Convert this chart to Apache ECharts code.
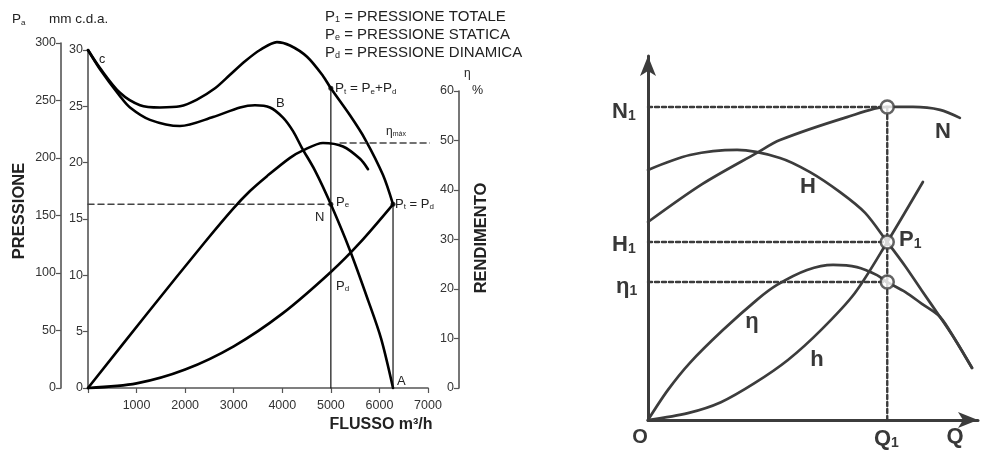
<!DOCTYPE html>
<html><head><meta charset="utf-8">
<script src="https://cdn.jsdelivr.net/npm/echarts@6/dist/echarts.min.js"></script>
<style>html,body{margin:0;padding:0;background:#fff}#c{width:988px;height:454px}</style>
</head><body><div id="c"></div>
<script>
// ---------- Left chart: fan curves ----------
const flussoTicks = [0,1000,2000,3000,4000,5000,6000,7000];      // m3/h
const pressionePaTicks = [0,50,100,150,200,250,300];              // Pa
const pressioneMmTicks = [0,5,10,15,20,25,30];                    // mm c.d.a.
const rendimentoTicks = [0,10,20,30,40,50,60];                    // %

// [flusso m3/h, pressione mm c.d.a.]
const pressioneTotale = [[0,30],[247,28.4],[659,26.2],[1071,25.1],[1482,24.9],[1894,25.0],[2244,25.6],[2615,26.6],[2924,27.8],[3233,29.0],[3541,30.0],[3891,30.7],[4159,30.4],[4509,29.4],[4838,27.7],[5000,26.6],[5394,24.2],[5703,22.1],[6074,18.9],[6280,16.3]];
const pressioneStatica = [[0,30],[247,28.3],[659,25.9],[865,24.9],[1277,23.8],[1894,23.25],[2574,24.05],[3130,24.9],[3438,25.1],[3747,24.9],[4015,24.0],[4221,22.8],[4406,21.3],[4674,19.3],[5000,16.3],[5394,12.2],[5765,7.8],[6033,4.4],[6280,0]];
const pressioneDinamica = [[0,0],[1000,0.41],[2000,1.64],[3000,3.7],[4000,6.6],[5000,10.3],[5600,12.9],[6280,16.3]];
// [flusso m3/h, rendimento %]
const rendimento = [[0,0],[1215,15.0],[2409,29.5],[2985,36.2],[3335,39.8],[3685,42.8],[4159,46.5],[4427,48.0],[4838,49.5],[5250,48.8],[5600,46.3],[5765,44.2]];
const puntoLavoro = [5000, 26.6, 16.3];   // flusso, Pt, Pe
const puntoMax = [6280, 16.3];            // flusso, Pt = Pd
const etaMax = [5190, 7640, 49.5];        // dashed from, to, value

// ---------- Right chart: pump curves (arbitrary units) ----------
const curvaN = [[0,54.4],[16.4,64.8],[33.0,73.4],[40.0,76.9],[60.3,83.2],[72.5,86.0],[80.3,86.0],[88.5,85.2],[94.5,83.0]];
const curvaH = [[0,68.7],[12.7,72.8],[27.0,74.2],[40.0,72.0],[49.1,68.1],[58.2,62.6],[65.8,56.9],[72.5,48.9],[77.9,42.3],[83.0,35.5],[88.5,28.3],[93.0,22.2],[98.2,14.3]];
const curvaEta = [[0,0],[6.0,8.2],[12.7,15.7],[22.7,24.7],[33.0,33.0],[39.1,37.1],[48.2,41.2],[56.1,42.6],[63.3,42.0],[69.4,39.8],[72.5,37.9],[77.9,35.2],[83.0,31.9],[88.5,28.3],[93.0,22.2],[98.2,14.3]];
const curvaImpianto = [[0,0],[12.1,1.9],[22.1,4.9],[32.4,10.2],[42.4,16.5],[52.4,24.7],[62.7,34.9],[72.5,48.9],[83.3,65.4]];
const puntoQ1 = 72.5;
const livelli = {N1: 86.0, H1: 48.9, eta1: 37.9};

const FONT = '"Liberation Sans", Arial, Helvetica, sans-serif';
const AX = '#555';
const GR = '#3c3c3c';

function tickOpts(ticks){ return {min: ticks[0], max: ticks[ticks.length-1], interval: ticks[1]-ticks[0]}; }

function line(data, xi, opts){
  opts = opts || {};
  return {
    type:'line', data:data, xAxisIndex:xi, yAxisIndex:xi, symbol:'none', clip:false,
    smooth: opts.smooth === undefined ? false : opts.smooth,
    lineStyle:{color: opts.color || '#000', width: opts.width || 2.6, type: opts.type || 'solid', cap:'round', join:'round'},
    z: opts.z || 3, silent:true, animation:false
  };
}

const series = [
  line(pressioneTotale, 0, {smooth:0.3}),
  line(pressioneStatica, 0, {smooth:0.3}),
  line(pressioneDinamica, 0, {smooth:0.3}),
  line([[0,puntoLavoro[2]],[puntoLavoro[0],puntoLavoro[2]]], 0, {color:'#444', width:1.5, type:[6,4]}),
  line([[puntoLavoro[0],0],[puntoLavoro[0],puntoLavoro[1]]], 0, {color:'#111', width:1.2}),
  line([[puntoMax[0],0],[puntoMax[0],puntoMax[1]]], 0, {color:'#111', width:1.2}),
  {type:'scatter', xAxisIndex:0, yAxisIndex:0, symbolSize:5, itemStyle:{color:'#000'}, silent:true, animation:false, z:5,
   data:[[puntoLavoro[0],puntoLavoro[1]],[puntoLavoro[0],puntoLavoro[2]],[puntoMax[0],puntoMax[1]]]},
  line(rendimento, 2, {smooth:0.3}),
  line([[etaMax[0],etaMax[2]],[etaMax[1],etaMax[2]]], 2, {color:'#444', width:1.5, type:[6,4]}),
  // right chart
  line(curvaN, 3, {smooth:0.3, color:GR, width:2.7}),
  line(curvaH, 3, {smooth:0.3, color:GR, width:2.7}),
  line(curvaEta, 3, {smooth:0.3, color:GR, width:2.7}),
  line(curvaImpianto, 3, {smooth:0.3, color:GR, width:2.7}),
  line([[0,livelli.N1],[puntoQ1,livelli.N1]], 3, {color:GR, width:2.4, type:[4,3]}),
  line([[0,livelli.H1],[puntoQ1,livelli.H1]], 3, {color:GR, width:2.4, type:[4,3]}),
  line([[0,livelli.eta1],[puntoQ1,livelli.eta1]], 3, {color:GR, width:2.4, type:[4,3]}),
  line([[puntoQ1,0],[puntoQ1,livelli.N1]], 3, {color:GR, width:2.4, type:[4,3]}),
  {type:'scatter', xAxisIndex:3, yAxisIndex:3, symbol:'circle', symbolSize:13, silent:true, animation:false, z:6,
   itemStyle:{color:'#fff', borderColor:GR, borderWidth:2.5},
   data:[[puntoQ1,livelli.N1],[puntoQ1,livelli.H1],[puntoQ1,livelli.eta1]]}
];

const axisBase = {
  axisLine:{show:true, onZero:false, lineStyle:{color:AX, width:1.6}},
  axisTick:{show:true, length:5, lineStyle:{color:AX, width:1.2}},
  axisLabel:{color:'#333', fontSize:12.5, fontFamily:FONT},
  splitLine:{show:false}
};
function ax(extra){ return Object.assign({type:'value'}, JSON.parse(JSON.stringify(axisBase)), extra); }

const xAxis = [
  Object.assign(ax({gridIndex:0}), tickOpts(flussoTicks)),
  {type:'value', gridIndex:1, min:0, max:7000, show:false},
  {type:'value', gridIndex:2, min:0, max:7000, show:false},
  {type:'value', gridIndex:3, min:0, max:100, splitLine:{show:false}, axisTick:{show:false}, axisLabel:{show:false},
   axisLine:{show:true, onZero:false, symbol:['none','arrow'], symbolSize:[12,20], lineStyle:{color:GR, width:3}}}
];
xAxis[0].axisLabel.formatter = v => v === 0 ? '' : String(v);
xAxis[0].axisLabel.margin = 11;

const yAxis = [
  Object.assign(ax({gridIndex:0, position:'left'}), tickOpts(pressioneMmTicks)),
  Object.assign(ax({gridIndex:1, position:'left', offset:27}), tickOpts(pressionePaTicks)),
  Object.assign(ax({gridIndex:2, position:'right', offset:31}), tickOpts(rendimentoTicks)),
  {type:'value', gridIndex:3, min:0, max:100, splitLine:{show:false}, axisTick:{show:false}, axisLabel:{show:false},
   axisLine:{show:true, onZero:false, symbol:['none','arrow'], symbolSize:[12,20], lineStyle:{color:GR, width:3}}}
];
yAxis[0].axisLabel.margin = 5;
yAxis[1].axisLabel.margin = 5;
yAxis[2].axisLabel.inside = true; yAxis[2].axisLabel.margin = 5;
yAxis[2].axisTick.inside = true;

// text helpers
function rt(text, x, y, size, opts){
  opts = opts || {};
  const col = opts.color || '#222';
  return {type:'text', x:x, y:y, rotation: opts.rotation || 0, silent:true, z:10,
    style:{text:text, fill:col, align: opts.align || 'left', verticalAlign:'middle',
      font: (opts.bold?'bold ':'') + size + 'px ' + FONT,
      rich:{
        b:{fontSize:size, fontFamily:FONT, fontWeight: opts.bold?'bold':'normal', fill:col, lineHeight:size+4, verticalAlign:'bottom'},
        s:{fontSize:Math.round(size*0.62), fontFamily:FONT, fontWeight: opts.bold?'bold':'normal', fill:col, lineHeight:Math.round(size*0.62), verticalAlign:'bottom'}
      }}};
}
const P = (s) => '{b|P}{s|' + s + '}';

const graphic = [
  rt(P('a'), 12, 18, 13.5),
  rt('mm c.d.a.', 49, 19, 13.5),
  rt(P('1') + '{b| = PRESSIONE TOTALE}', 325, 15, 15),
  rt(P('e') + '{b| = PRESSIONE STATICA}', 325, 33, 15),
  rt(P('d') + '{b| = PRESSIONE DINAMICA}', 325, 51, 15),
  rt(P('t') + '{b| = }' + P('e') + '{b|+}' + P('d'), 335, 87, 13.5),
  rt('{b|η}{s|máx}', 386, 130, 12),
  rt('η', 464, 74, 12),
  rt('%', 472, 91, 12.5),
  rt('c', 99, 60, 12.5),
  rt('B', 276, 103, 13),
  rt('N', 315, 217, 13),
  rt(P('e'), 336, 200, 13),
  rt(P('t') + '{b| = }' + P('d'), 395, 202, 13),
  rt(P('d'), 336, 284, 13),
  rt('A', 397, 381, 13),
  rt('PRESSIONE', 19, 211, 16.5, {bold:true, align:'center', rotation:Math.PI/2}),
  rt('RENDIMENTO', 481, 238, 16.5, {bold:true, align:'center', rotation:Math.PI/2}),
  rt('FLUSSO m³/h', 381, 425, 16, {bold:true, align:'center'}),
  // right chart labels
  rt('{b|N}{s|1}', 612, 110, 22, {bold:true, color:'#383838'}),
  rt('{b|H}{s|1}', 612, 243, 22, {bold:true, color:'#383838'}),
  rt('{b|η}{s|1}', 616, 285, 22, {bold:true, color:'#383838'}),
  rt('O', 640, 437, 20, {bold:true, color:'#383838', align:'center'}),
  rt('{b|Q}{s|1}', 874, 437, 22, {bold:true, color:'#383838'}),
  rt('Q', 955, 437, 22, {bold:true, color:'#383838', align:'center'}),
  rt('N', 943, 132, 22, {bold:true, color:'#383838', align:'center'}),
  rt('H', 808, 187, 22, {bold:true, color:'#383838', align:'center'}),
  rt('{b|P}{s|1}', 899, 238, 22, {bold:true, color:'#383838'}),
  rt('η', 752, 322, 22, {bold:true, color:'#383838', align:'center'}),
  rt('h', 817, 360, 22, {bold:true, color:'#383838', align:'center'})
];

const chart = echarts.init(document.getElementById('c'), null, {renderer:'canvas'});
chart.setOption({
  animation:false,
  backgroundColor:'#fff',
  grid:[
    {left:88, top:50, width:340, height:338},
    {left:88, top:43, width:340, height:345},
    {left:88, top:91, width:340, height:297},
    {left:648, top:56, width:330, height:364}
  ],
  xAxis:xAxis, yAxis:yAxis, series:series, graphic:graphic
});
</script></body></html>
